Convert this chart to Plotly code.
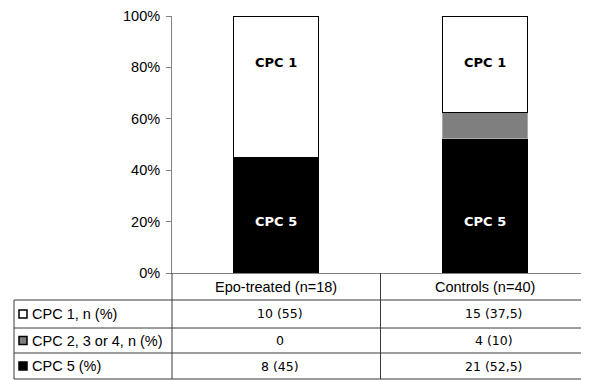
import plotly.graph_objects as go

# ---- data ----
categories = ["Epo-treated (n=18)", "Controls (n=40)"]
cpc5_pct = [45, 52.5]
cpc234_pct = [0, 10]
cpc1_pct = [55, 37.5]
cpc1_n = [10, 15]
cpc234_n = [0, 4]
cpc5_n = [8, 21]
row_labels = ["CPC 1, n (%)", "CPC 2, 3 or 4, n (%)", "CPC 5 (%)"]
row_colors = ["#ffffff", "#7f7f7f", "#000000"]
y_ticks = [0, 20, 40, 60, 80, 100]
y_tick_labels = ["0%", "20%", "40%", "60%", "80%", "100%"]

OFF = 8  # page body margin
W, H = 589 - OFF, 380 - OFF
ML, MR, MT = 172 - OFF, 0, 16 - OFF
MB = H - (273 - OFF)
PW, PH = W - ML - MR, H - MT - MB


def px_to_paper_x(px):
    return (px - OFF - ML) / PW


def px_to_paper_y(py):
    return (H - MB - (py - OFF)) / PH


def fmt(v):
    return ("%g" % v).replace(".", ",")


def cell(n, p):
    return "0" if n == 0 else f"{n} ({fmt(p)})"


xs = list(range(len(categories)))
fig = go.Figure()
fig.add_trace(go.Bar(x=xs, y=cpc5_pct, marker=dict(color="#000000", line=dict(color="#000000", width=1)), width=0.41))
fig.add_trace(go.Bar(x=xs, y=cpc234_pct, marker=dict(color="#7f7f7f", line=dict(color="#a8a8a8", width=1)), width=0.41))
fig.add_trace(go.Bar(x=xs, y=cpc1_pct, marker=dict(color="#ffffff", line=dict(color="#000000", width=1)), width=0.41))

annotations = []
for i in xs:
    annotations.append(dict(x=i, y=82, xref="x", yref="y", text="<b>CPC 1</b>", showarrow=False,
                            xanchor="center", yanchor="middle",
                            font=dict(family="DejaVu Sans", size=13, color="#000000")))
    annotations.append(dict(x=i, y=20, xref="x", yref="y", text="<b>CPC 5</b>", showarrow=False,
                            xanchor="center", yanchor="middle",
                            font=dict(family="DejaVu Sans", size=13, color="#ffffff")))

for i, c in enumerate(categories):
    annotations.append(dict(x=i, y=px_to_paper_y(287), xref="x", yref="paper", text=c, showarrow=False,
                            xanchor="center", yanchor="middle",
                            font=dict(family="Liberation Sans", size=14.5, color="#000000")))

row_centers = [314, 340.5, 366]
value_xshift = [4, 9]
row_vals = [
    [cell(cpc1_n[i], cpc1_pct[i]) for i in xs],
    [cell(cpc234_n[i], cpc234_pct[i]) for i in xs],
    [cell(cpc5_n[i], cpc5_pct[i]) for i in xs],
]
shapes = []
for r, (lab, col, yc) in enumerate(zip(row_labels, row_colors, row_centers)):
    annotations.append(dict(x=px_to_paper_x(30), y=px_to_paper_y(yc), xref="paper", yref="paper", text=lab,
                            showarrow=False, xanchor="left", yanchor="middle",
                            font=dict(family="Liberation Sans", size=14.5, color="#000000")))
    shapes.append(dict(type="rect", xref="paper", yref="paper",
                       x0=px_to_paper_x(19), x1=px_to_paper_x(27),
                       y0=px_to_paper_y(yc + 4), y1=px_to_paper_y(yc - 4),
                       fillcolor=col, line=dict(color="#000000", width=1.5)))
    for i in xs:
        annotations.append(dict(x=i, y=px_to_paper_y(yc), xref="x", yref="paper", text=row_vals[r][i],
                                showarrow=False, xanchor="center", yanchor="middle", xshift=value_xshift[i],
                                font=dict(family="DejaVu Sans", size=12.5, color="#000000")))

line_col = "#3a3a3a"
for py in [300, 328, 353, 379]:
    shapes.append(dict(type="line", xref="paper", yref="paper", x0=px_to_paper_x(14), x1=1.05,
                       y0=px_to_paper_y(py), y1=px_to_paper_y(py), line=dict(color=line_col, width=1)))
shapes.append(dict(type="line", xref="paper", yref="paper", x0=px_to_paper_x(14), x1=px_to_paper_x(14),
                   y0=px_to_paper_y(300), y1=px_to_paper_y(379), line=dict(color=line_col, width=1)))
shapes.append(dict(type="line", xref="paper", yref="paper", x0=0, x1=0,
                   y0=0, y1=px_to_paper_y(379), line=dict(color=line_col, width=1)))
shapes.append(dict(type="line", xref="x", yref="paper", x0=0.5, x1=0.5,
                   y0=0, y1=px_to_paper_y(379), line=dict(color=line_col, width=1)))

fig.update_layout(
    width=W, height=H, barmode="stack", showlegend=False,
    margin=dict(l=ML, r=MR, t=MT, b=MB, pad=0),
    paper_bgcolor="#ffffff", plot_bgcolor="#ffffff",
    xaxis=dict(range=[-0.5, 1.5], showticklabels=False, showgrid=False, zeroline=False,
               showline=True, linecolor="#808080", linewidth=1, ticks=""),
    yaxis=dict(range=[0, 100], tickvals=y_ticks, ticktext=y_tick_labels, showgrid=False, zeroline=False,
               showline=True, linecolor="#808080", linewidth=1, ticks="outside", ticklen=5,
               tickcolor="#808080", ticklabelstandoff=3,
               tickfont=dict(family="Liberation Sans", size=14.5, color="#000000")),
    annotations=annotations, shapes=shapes,
)
fig.write_html("out.html")
